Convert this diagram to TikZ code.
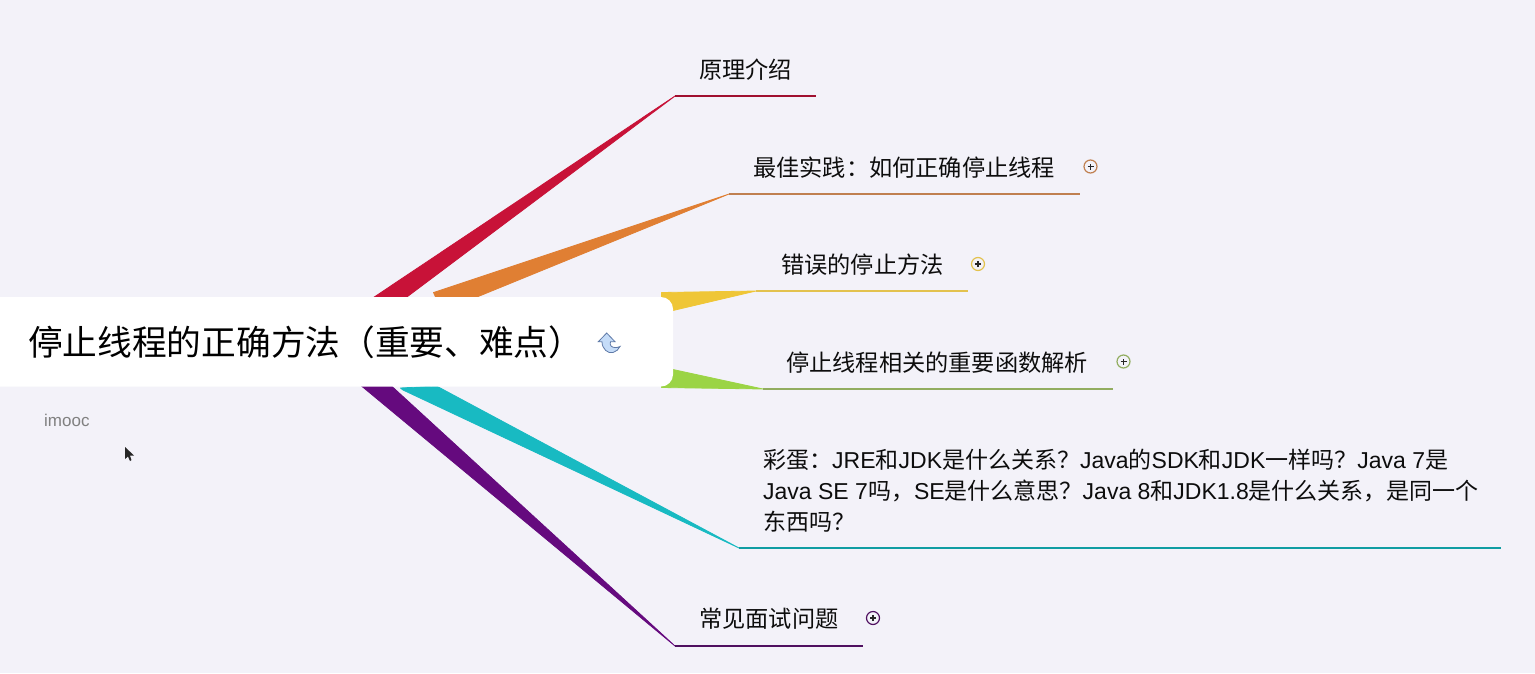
\documentclass[tikz,border=0pt]{standalone}
\usepackage{fontspec}
\setmainfont{Liberation Sans}
\newfontfamily\cjk{Noto Sans CJK SC}
\definecolor{bgc}{HTML}{F3F2F9}
\definecolor{branchRed}{HTML}{C81238}
\definecolor{lineRed}{HTML}{A01030}
\definecolor{branchOrange}{HTML}{E07F33}
\definecolor{lineOrange}{HTML}{C08050}
\definecolor{branchYellow}{HTML}{EFC637}
\definecolor{lineYellow}{HTML}{E3C24E}
\definecolor{branchGreen}{HTML}{9BD445}
\definecolor{lineGreen}{HTML}{92AD60}
\definecolor{branchTeal}{HTML}{18BAC2}
\definecolor{lineTeal}{HTML}{0F9DA3}
\definecolor{branchPurple}{HTML}{650A7E}
\definecolor{linePurple}{HTML}{4F1060}
\definecolor{iconFill}{HTML}{C5DCF8}
\definecolor{iconLine}{HTML}{5F7AA8}
\tikzset{
  x=1pt,y=-1pt,
  lbl/.style={anchor=west,inner sep=0pt,font=\cjk\fontsize{23.2}{23}\selectfont,text=black!95},
  uline/.style={line width=2pt},
  branch/.style={fill=#1,draw=#1,line width=.8pt,line join=round},
  plus/.style={circle,draw=#1,line width=1.2pt,fill=bgc,minimum size=13pt,inner sep=0pt},
}
\newcommand{\plusmark}[3]{%
  \node[plus=#3] (#1) at (#2) {};
  \draw[line width=1.4pt,black!85] ([xshift=-3pt]#1.center) -- ([xshift=3pt]#1.center);
  \draw[line width=1.4pt,black!85] ([yshift=-3pt]#1.center) -- ([yshift=3pt]#1.center);
}
\begin{document}
\begin{tikzpicture}
\useasboundingbox (0,0) rectangle (1535,673);
\fill[bgc] (0,0) rectangle (1535,673);
% tips and line ends
\coordinate (redT) at (675,96);  \coordinate (redE) at (816,96);
\coordinate (oraT) at (729,194); \coordinate (oraE) at (1080,194);
\coordinate (yelT) at (756,291); \coordinate (yelE) at (968,291);
\coordinate (greT) at (763,389); \coordinate (greE) at (1113,389);
\coordinate (teaT) at (739,548); \coordinate (teaE) at (1501,548);
\coordinate (purT) at (675,646); \coordinate (purE) at (863,646);
% tapered branches
\path[branch=branchRed] (373.5,297.5) -- (redT) -- (405.5,298) -- cycle;
\path[branch=branchOrange] (433.5,292.5) -- (oraT) -- (474.5,298) -- (436,298) -- cycle;
\path[branch=branchYellow] (661.5,292.5) -- (yelT) -- (673,310.5) -- (661.5,297) -- cycle;
\path[branch=branchGreen] (661.5,387.5) -- (greT) -- (673,369.5) -- (661.5,384) -- cycle;
\path[branch=branchTeal] (400.5,388) -- (403,390) -- (teaT) -- (436.5,386) -- cycle;
\path[branch=branchPurple] (361.5,386) -- (purT) -- (391.5,386) -- cycle;
% underlines
\draw[uline,lineRed]    (redT) -- (redE);
\draw[uline,lineOrange] (oraT) -- (oraE);
\draw[uline,lineYellow] (yelT) -- (yelE);
\draw[uline,lineGreen]  (greT) -- (greE);
\draw[uline,lineTeal]   (teaT) -- (teaE);
\draw[uline,linePurple] (purT) -- (purE);
% central topic
\fill[white,rounded corners=12pt] (-20,297) rectangle (673,386.5);
\node[anchor=west,inner sep=0pt,font=\cjk\fontsize{34.7}{35}\selectfont,text=black] (root) at (28,342) {停止线程的正确方法（重要、难点）};
% return icon
\filldraw[draw=iconLine,line width=.8pt,fill=iconFill]
  (606.7,333) -- (598.3,341.7) -- (602,341.7) .. controls (602,349) and (608,354) .. (613,352.5)
  .. controls (616,351.5) and (619,349.5) .. (620,346.5)
  .. controls (617,348) and (613,348) .. (611,346)
  .. controls (610,345) and (610,343) .. (610.5,341.7) -- (615,341.7) -- cycle;
% labels
\node[lbl] (n1) at (699,69.5)  {原理介绍};
\node[lbl] (n2) at (753,167.5) {最佳实践：如何正确停止线程};
\node[lbl] (n3) at (781,264.5) {错误的停止方法};
\node[lbl] (n4) at (786,362.5) {停止线程相关的重要函数解析};
\node[lbl] (n6) at (699,619)   {常见面试问题};
\node[anchor=north west,inner sep=0pt,align=left,font=\fontsize{23}{31}\selectfont,text=black!95] (n5) at (763,449)
 {{\cjk 彩蛋：}JRE{\cjk 和}JDK{\cjk 是什么关系？}Java{\cjk 的}SDK{\cjk 和}JDK{\cjk 一样吗？}Java 7{\cjk 是}\\
  Java SE 7{\cjk 吗，}SE{\cjk 是什么意思？}Java 8{\cjk 和}JDK1.8{\cjk 是什么关系，是同一个}\\
  {\cjk 东西吗？}};
% expand marks
\plusmark{p2}{1090.5,166.5}{lineOrange}
\plusmark{p3}{978,264}{lineYellow}
\plusmark{p4}{1123.5,361.5}{lineGreen}
\plusmark{p6}{873,618}{linePurple}
% caption and pointer
\node[anchor=west,inner sep=0pt,font=\fontsize{17}{17}\selectfont,text=black!50] (cap) at (44,420.5) {imooc};
\fill[black!85] (125,447) -- (125,459) -- (128,456.5) -- (130,461) -- (131.5,460) -- (130,455.5) -- (134,455.5) -- cycle;
\end{tikzpicture}
\end{document}
